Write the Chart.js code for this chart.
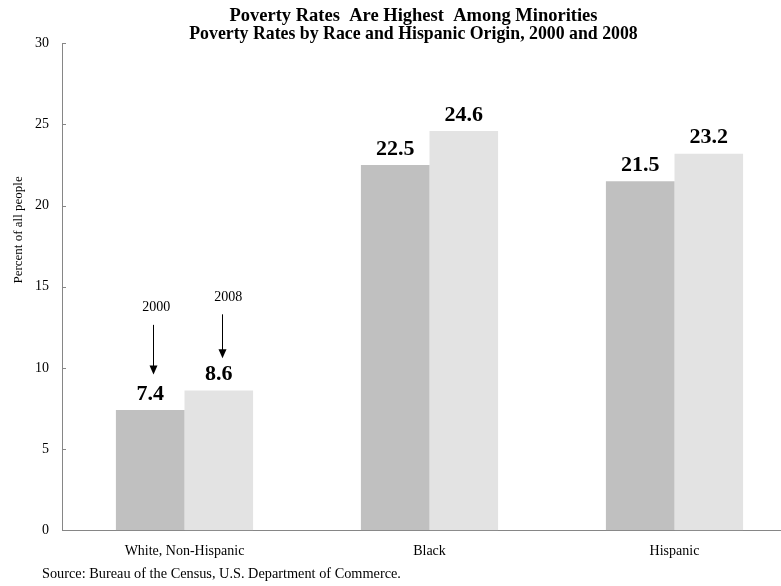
<!DOCTYPE html>
<html>
<head>
<meta charset="utf-8">
<script src="https://cdn.jsdelivr.net/npm/chart.js@4.4.0/dist/chart.umd.min.js"></script>
<style>
  html, body { margin: 0; padding: 0; background: #fff; overflow: hidden; }
  #wrap { width: 826px; height: 586px; }
</style>
</head>
<body>
<div id="wrap"><canvas id="povChart" width="826" height="586"></canvas></div>
<script>
// data
const categories = ["White, Non-Hispanic", "Black", "Hispanic"];
const rates2000 = [7.4, 22.5, 21.5];
const rates2008 = [8.6, 24.6, 23.2];
const yTicks = [0, 5, 10, 15, 20, 25, 30];

const serif = "'Liberation Serif', 'Times New Roman', serif";
const axisGray = '#868686';

// bold value labels above each bar
const valueLabels = {
    id: 'valueLabels',
    afterDatasetsDraw(chart) {
        let ctx = chart.ctx;
        ctx.save();
        ctx.font = "bold 22px " + serif;
        ctx.fillStyle = '#000';
        ctx.textAlign = 'center';
        ctx.textBaseline = 'bottom';
        chart.data.datasets.forEach((ds, i) => {
            chart.getDatasetMeta(i).data.forEach((bar, j) => {
                ctx.fillText(ds.data[j].toFixed(1), bar.x, bar.y - 5);
            });
        });
        ctx.restore();
    }
};

// inward tick marks, axis title, "2000"/"2008" call-outs and source line
const extras = {
    id: 'extras',
    afterDraw(chart) {
        let ctx = chart.ctx;
        let y = chart.scales.y;
        let area = chart.chartArea;
        ctx.save();

        ctx.strokeStyle = axisGray;
        ctx.lineWidth = 1;
        yTicks.forEach(v => {
            let py = Math.round(y.getPixelForValue(v)) + 0.5;
            ctx.beginPath();
            ctx.moveTo(area.left, py);
            ctx.lineTo(area.left + 4, py);
            ctx.stroke();
        });

        ctx.fillStyle = '#000';
        ctx.font = "13px " + serif;
        ctx.textAlign = 'center';
        ctx.textBaseline = 'middle';
        ctx.save();
        ctx.translate(19, y.getPixelForValue(18.5));
        ctx.rotate(-Math.PI / 2);
        ctx.fillText("Percent of all people", 0, 0);
        ctx.restore();

        let notes = [
            {ds: 0, text: "2000", textAt: 13.75, from: 12.65, to: 9.6, dx: 3, tx: 6},
            {ds: 1, text: "2008", textAt: 14.35, from: 13.3, to: 10.6, dx: 3, tx: 9.5}
        ];
        ctx.strokeStyle = '#000';
        notes.forEach(n => {
            let bar = chart.getDatasetMeta(n.ds).data[0];
            let ax = Math.round(bar.x + n.dx) + 0.5;
            let y1 = y.getPixelForValue(n.from);
            let y2 = y.getPixelForValue(n.to);
            ctx.font = "14px " + serif;
            ctx.textAlign = 'center';
            ctx.textBaseline = 'middle';
            ctx.fillText(n.text, bar.x + n.tx, y.getPixelForValue(n.textAt));
            ctx.beginPath();
            ctx.moveTo(ax, y1);
            ctx.lineTo(ax, y2 - 8);
            ctx.stroke();
            ctx.beginPath();
            ctx.moveTo(ax - 4, y2 - 9);
            ctx.lineTo(ax + 4, y2 - 9);
            ctx.lineTo(ax, y2);
            ctx.closePath();
            ctx.fill();
        });

        ctx.font = "14.3px " + serif;
        ctx.textAlign = 'left';
        ctx.textBaseline = 'middle';
        ctx.fillText("Source: Bureau of the Census, U.S. Department of Commerce.", 42, 574);
        ctx.restore();
    }
};

let povChart = new Chart(document.getElementById('povChart'), {
    type: 'bar',
    data: {
        labels: categories,
        datasets: [
            {label: '2000', data: rates2000, backgroundColor: '#c0c0c0', categoryPercentage: 0.56, barPercentage: 1},
            {label: '2008', data: rates2008, backgroundColor: '#e3e3e3', categoryPercentage: 0.56, barPercentage: 1}
        ]
    },
    options: {
        responsive: false,
        animation: false,
        devicePixelRatio: 1,
        layout: {padding: {left: 30, right: 29, top: 0, bottom: 21}},
        plugins: {
            legend: {display: false},
            tooltip: {enabled: false},
            title: {
                display: true,
                text: 'Poverty Rates  Are Highest  Among Minorities',
                color: '#000',
                font: {family: serif, size: 18.5, weight: 'bold', lineHeight: 1.1},
                padding: {top: 6, bottom: 0}
            },
            subtitle: {
                display: true,
                text: 'Poverty Rates by Race and Hispanic Origin, 2000 and 2008',
                color: '#000',
                font: {family: serif, size: 17.8, weight: 'bold', lineHeight: 0.95},
                padding: {top: 0, bottom: 0}
            }
        },
        scales: {
            x: {
                grid: {display: false},
                border: {display: true, color: axisGray, width: 1},
                ticks: {color: '#000', font: {family: serif, size: 14}, padding: 5, maxRotation: 0}
            },
            y: {
                min: 0,
                max: 30,
                afterBuildTicks: axis => { axis.ticks = yTicks.map(v => ({value: v})); },
                grid: {display: false},
                border: {display: true, color: axisGray, width: 1},
                ticks: {color: '#000', font: {family: serif, size: 14}, padding: 5}
            }
        }
    },
    plugins: [valueLabels, extras]
});
</script>
</body>
</html>
